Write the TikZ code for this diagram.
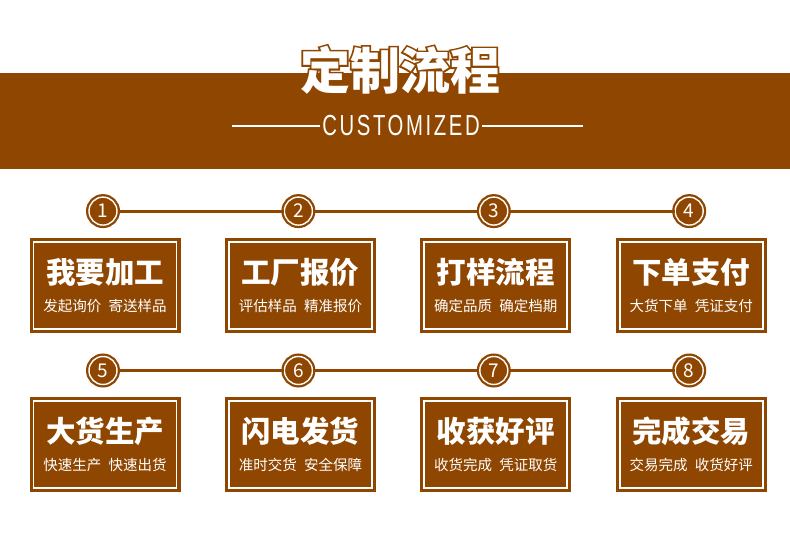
\documentclass[tikz,border=0pt]{standalone}
\usepackage{fontspec}
\setmainfont{Noto Sans CJK SC}
\newfontfamily\haloFont[FakeBold=7]{Noto Sans CJK SC}
\newfontfamily\capfont[FakeStretch=0.7,LetterSpace=9]{Liberation Sans}
\usetikzlibrary{positioning}
\definecolor{brn}{RGB}{143,70,0}

\begin{document}
\begin{tikzpicture}[
  x=1pt, y=1pt,
  node distance=44pt and 44pt,
  box/.style={fill=brn, minimum width=151pt, minimum height=95pt, inner sep=0pt,
              path picture={\draw[white, line width=1.8pt]
                ([shift={(4pt,4pt)}]path picture bounding box.south west) rectangle
                ([shift={(-4pt,-4pt)}]path picture bounding box.north east);}},
  num/.style={circle, fill=brn, draw=white, line width=1.4pt, minimum size=28pt,
              inner sep=0pt, preaction={draw=brn, line width=6pt},
              text=white, font=\fontsize{19}{19}\selectfont},
  link/.style={draw=brn, line width=3pt},
  head/.style={text=white, font=\fontsize{29.5}{30}\selectfont\bfseries, inner sep=0pt},
  sub/.style={text=white, font=\fontsize{14.5}{15}\selectfont, inner sep=0pt},
  rule/.style={draw=white, line width=1.8pt}
]
  \useasboundingbox (0,0) rectangle (790,557);
  \fill[brn] (0,388) rectangle (790,484);

  % title with brown halo
  \node[text=brn, font=\haloFont\fontsize{50}{50}\selectfont\bfseries, inner sep=0pt] (halo) at (400,487) {定制流程};
  \node[text=white, font=\fontsize{50}{50}\selectfont\bfseries, inner sep=0pt] (title) at (halo.center) {定制流程};
  \node[text=white, font=\capfont\fontsize{29}{29}\selectfont, inner sep=2pt] (en) at (401,431) {CUSTOMIZED};
  \coordinate (ruleL) at (232,431);
  \coordinate (ruleR) at (583,431);
  \draw[rule] (ruleL) -- (en.west);
  \draw[rule] (en.east) -- (ruleR);

  % boxes
  \node[box] (b1) at (105,271.5) {};
  \node[box, right=of b1] (b2) {};
  \node[box, right=of b2] (b3) {};
  \node[box, right=of b3] (b4) {};
  \node[box, below=64pt of b1] (b5) {};
  \node[box, right=of b5] (b6) {};
  \node[box, right=of b6] (b7) {};
  \node[box, right=of b7] (b8) {};

  % step numbers
  \node[num, above=12pt of b1, xshift=-2pt] (c1) {1};
  \node[num, above=12pt of b2, xshift=-2pt] (c2) {2};
  \node[num, above=12pt of b3, xshift=-2pt] (c3) {3};
  \node[num, above=12pt of b4, xshift=-2pt] (c4) {4};
  \node[num, above=12pt of b5, xshift=-2pt] (c5) {5};
  \node[num, above=12pt of b6, xshift=-2pt] (c6) {6};
  \node[num, above=12pt of b7, xshift=-2pt] (c7) {7};
  \node[num, above=12pt of b8, xshift=-2pt] (c8) {8};

  \draw[link] (c1) -- (c2);
  \draw[link] (c2) -- (c3);
  \draw[link] (c3) -- (c4);
  \draw[link] (c5) -- (c6);
  \draw[link] (c6) -- (c7);
  \draw[link] (c7) -- (c8);

  % texts
  \node[head] (t1) at ([yshift=13.5pt]b1.center) {我要加工};
  \node[sub]  (s1) at ([yshift=-20.5pt]b1.center) {发起询价\hspace{0.5em}寄送样品};
  \node[head] (t2) at ([yshift=13.5pt]b2.center) {工厂报价};
  \node[sub]  (s2) at ([yshift=-20.5pt]b2.center) {评估样品\hspace{0.5em}精准报价};
  \node[head] (t3) at ([yshift=13.5pt]b3.center) {打样流程};
  \node[sub]  (s3) at ([yshift=-20.5pt]b3.center) {确定品质\hspace{0.5em}确定档期};
  \node[head] (t4) at ([yshift=13.5pt]b4.center) {下单支付};
  \node[sub]  (s4) at ([yshift=-20.5pt]b4.center) {大货下单\hspace{0.5em}凭证支付};
  \node[head] (t5) at ([yshift=13.5pt]b5.center) {大货生产};
  \node[sub]  (s5) at ([yshift=-20.5pt]b5.center) {快速生产\hspace{0.5em}快速出货};
  \node[head] (t6) at ([yshift=13.5pt]b6.center) {闪电发货};
  \node[sub]  (s6) at ([yshift=-20.5pt]b6.center) {准时交货\hspace{0.5em}安全保障};
  \node[head] (t7) at ([yshift=13.5pt]b7.center) {收获好评};
  \node[sub]  (s7) at ([yshift=-20.5pt]b7.center) {收货完成\hspace{0.5em}凭证取货};
  \node[head] (t8) at ([yshift=13.5pt]b8.center) {完成交易};
  \node[sub]  (s8) at ([yshift=-20.5pt]b8.center) {交易完成\hspace{0.5em}收货好评};
\end{tikzpicture}
\end{document}
